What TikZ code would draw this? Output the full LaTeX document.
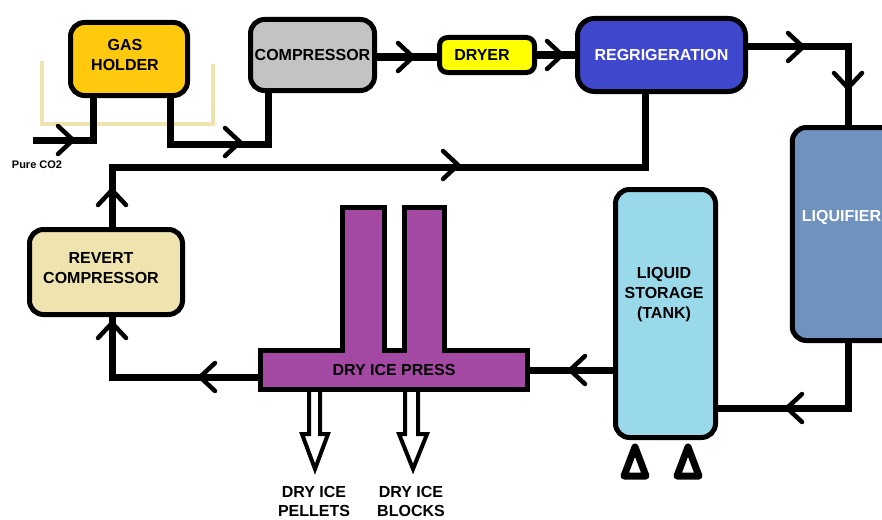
\documentclass[tikz,border=0pt]{standalone}
\usepackage{fontspec}
\setmainfont{Liberation Sans}
\definecolor{gasc}{HTML}{FFC90E}
\definecolor{compc}{HTML}{C3C3C3}
\definecolor{dryc}{HTML}{FFFF00}
\definecolor{regc}{HTML}{3F48CC}
\definecolor{liqc}{HTML}{7092BE}
\definecolor{tankc}{HTML}{99D9EA}
\definecolor{revc}{HTML}{EFE4B0}
\definecolor{pressc}{HTML}{A349A4}
\begin{document}
\begin{tikzpicture}[x=1pt,y=-1pt,
  box/.style={draw=black, line width=5pt, rounded corners=14pt, inner sep=0pt,
    font=\bfseries\fontsize{16}{20}\selectfont, align=center},
  lbl/.style={font=\bfseries\fontsize{16}{20}\selectfont, align=center, inner sep=0pt},
  pipe/.style={line width=7pt, draw=black},
  chevline/.style={line width=4.5pt, line cap=round, line join=round},
  chev/.pic={\draw[chevline] (-15,-14) -- (0,0) -- (-15,14);},
  hollow/.style={draw=black, fill=white, line width=4pt, line join=miter},
  leg/.style={draw=black, fill=white, line width=7pt, line join=round}
]
\useasboundingbox (0,0) rectangle (882,519);
\fill[white] (0,0) rectangle (882,519);
% beige tray behind gas holder
\draw[revc, line width=4pt] (42,61) -- (42,124) -- (213,124) -- (213,64);

% boxes
\node[box, fill=gasc, minimum width=117pt, minimum height=73pt] (gas) at (129,59) {};
\node[lbl] (gaslbl) at (125,55) {GAS\\HOLDER};
\node[box, fill=compc, minimum width=124pt, minimum height=71pt] (comp) at (312.5,55) {COMPRESSOR};
\node[box, fill=dryc, rounded corners=8pt, minimum width=95pt, minimum height=35pt] (dryer) at (487,55) {};
\node[lbl] (dryerlbl) at (482,55) {DRYER};
\node[box, fill=regc, rounded corners=17pt, minimum width=168pt, minimum height=73pt, text=white] (regrig) at (661.5,55) {REGRIGERATION};
\node[box, fill=liqc, minimum width=107.5pt, minimum height=213pt] (liq) at (846,234) {};
\node[lbl, text=white] (liqlbl) at (841.5,217) {LIQUIFIER};
\node[box, fill=tankc, minimum width=100pt, minimum height=248pt] (tank) at (665.5,313.5) {};
\node[lbl] (tanklbl) at (664,295) {LIQUID\\STORAGE\\(TANK)};
\node[box, fill=revc, minimum width=153pt, minimum height=85pt] (revert) at (106,272) {};
\node[lbl] (revlbl) at (101,268) {REVERT\\COMPRESSOR};

% tank legs
\draw[leg] (624,476) -- (635,447) -- (646,476) -- cycle;
\draw[leg] (677,476) -- (688,447) -- (699,476) -- cycle;

% dry ice press
\draw[fill=pressc, draw=black, line width=5pt, line join=miter]
  (260.5,350.5) -- (342.5,350.5) -- (342.5,207.5) -- (384.5,207.5) -- (384.5,350.5)
  -- (404.5,350.5) -- (404.5,207.5) -- (444.5,207.5) -- (444.5,350.5)
  -- (527.5,350.5) -- (527.5,389.5) -- (260.5,389.5) -- cycle;
\node[lbl, minimum width=267pt, minimum height=39pt] (press) at (394,370) {DRY ICE PRESS};

% output hollow arrows
\draw[hollow] (309,392) -- (309,434) -- (302,434) -- (315,469) -- (328,434) -- (320,434) -- (320,392);
\draw[hollow] (405,392) -- (405,434) -- (399,434) -- (413,469) -- (427,434) -- (418,434) -- (418,392);
\node[lbl, font=\bfseries\fontsize{16}{19}\selectfont] (pel) at (314,501) {DRY ICE\\PELLETS};
\node[lbl, font=\bfseries\fontsize{16}{19}\selectfont] (blk) at (411,501) {DRY ICE\\BLOCKS};

% inlet
\coordinate (in) at (33,140);
\node[font=\bfseries\fontsize{11}{13}\selectfont, inner sep=0pt] (pure) at (37,165) {Pure CO2};

% pipes
\draw[pipe] (in) -| ([xshift=-36pt]gas.south);
\draw[pipe] ([xshift=41pt]gas.south) -- ++(0,46.5) -| ([xshift=-44.5pt]comp.south);
\draw[pipe] ([yshift=-2pt]comp.east) -- ([yshift=-2pt]comp.east -| dryer.west);
\draw[pipe] (dryer.east) -- (dryer.east -| regrig.west);
\draw[pipe] ([yshift=8pt]regrig.east) -| ([xshift=2pt]liq.north);
\draw[pipe] ([xshift=2pt]liq.south) |- ([yshift=-94.5pt]tank.east);
\draw[pipe] (tank.west |- press.east) -- (press.east);
\draw[pipe] ([yshift=-7pt]press.west) -| ([xshift=6pt]revert.south);
\draw[pipe] ([xshift=-16.5pt]regrig.south) -- ++(0,73.5) -| ([xshift=6pt]revert.north);

% chevrons
\pic at (73,140) {chev};
\pic at (240,142) {chev};
\pic at (413,57) {chev};
\pic at (562,55) {chev};
\pic at (803,47) {chev};
\pic[rotate=-90] at (848,88) {chev};
\pic[rotate=180] at (787,408) {chev};
\pic[rotate=180] at (570,370) {chev};
\pic[rotate=180] at (200,377) {chev};
\pic[rotate=90] at (112,323) {chev};
\pic[rotate=90] at (112,190) {chev};
\pic at (458,165) {chev};
\end{tikzpicture}
\end{document}
